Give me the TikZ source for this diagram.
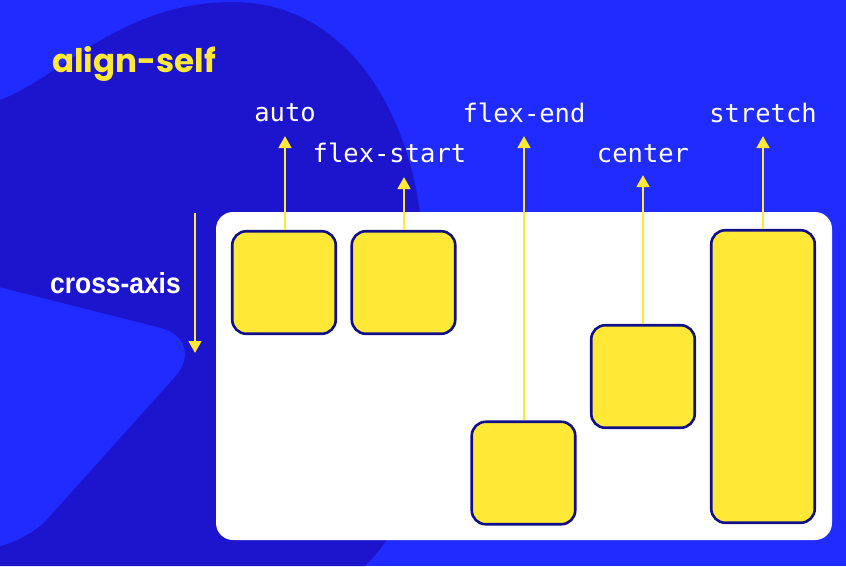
\documentclass[tikz,border=0pt]{standalone}
\usepackage{fontspec}
\usepackage{graphicx}
\setmainfont{Liberation Sans}
\newfontfamily\titlefont{Poppins Bold}
\newfontfamily\monofont{DejaVu Sans Mono}
\usetikzlibrary{arrows.meta}
\definecolor{bgblue}{HTML}{1F2BFF}
\definecolor{darkblob}{HTML}{1D15CE}
\definecolor{ylw}{HTML}{FFE936}
\definecolor{navy}{HTML}{111088}
\tikzset{
  ybox/.style={draw=navy, line width=2.6pt, fill=ylw, rounded corners=14pt, inner sep=0pt, minimum width=103.5pt, minimum height=102.5pt},
  lbl/.style={text=white, font=\monofont\fontsize{25.5}{26}\selectfont, anchor=base, inner sep=0pt},
  yarr/.style={draw=ylw, line width=2.7pt, -{Triangle[width=12.5pt,length=12pt]}},
}
\begin{document}
\begin{tikzpicture}[x=1pt,y=-1pt]
\useasboundingbox (0,0) rectangle (846,566);
\fill[bgblue] (0,0) rectangle (846,566);
% dark blob
\fill[darkblob] (0,100) .. controls (60,78) and (120,2) .. (233,2)
  .. controls (340,2) and (405,100) .. (420,213)
  .. controls (440,340) and (450,480) .. (365,566)
  -- (0,566) -- cycle;
% light rounded triangle
\fill[bgblue, rounded corners=50pt] (-100,262) -- (208,340) -- (14,556) -- (-100,540) -- cycle;
% title
\node[anchor=base west, inner sep=0pt, text=ylw, font=\titlefont\fontsize{32.5}{34}\selectfont] (title) at (52,72.5) {align-self};
% cross-axis
\node[anchor=base west, inner sep=0pt, text=white, font=\bfseries\fontsize{29}{30}\selectfont] (cross) at (50,293) {\scalebox{0.91}[1]{cross-axis}};
\coordinate (caTop) at (195,213);
\coordinate (caTip) at (195,353);
\draw[yarr] (caTop) -- (caTip);
% container
\node[fill=white, rounded corners=17pt, inner sep=0pt, minimum width=616pt, minimum height=328pt] (container) at (524,376) {};
% boxes
\node[ybox] (bauto) at (284,282.5) {};
\node[ybox] (bstart) at (403.5,282.5) {};
\node[ybox] (bend) at (523.5,473) {};
\node[ybox] (bcenter) at (643,376.5) {};
\node[ybox, minimum height=292.5pt] (bstretch) at (763,376.5) {};
% labels
\node[lbl] (lauto) at (285,121) {auto};
\node[lbl] (lstart) at (389.5,162) {flex-start};
\node[lbl] (lend) at (524,122) {flex-end};
\node[lbl] (lcenter) at (643,162) {center};
\node[lbl] (lstretch) at (763,122) {stretch};
% arrow tips
\coordinate (tauto) at (285,136);
\coordinate (tstart) at (404,177);
\coordinate (tend) at (524,136);
\coordinate (tcenter) at (643,175);
\coordinate (tstretch) at (763,136);
\draw[yarr] (bauto.north -| tauto) -- (tauto);
\draw[yarr] (bstart.north -| tstart) -- (tstart);
\draw[yarr] (bend.north -| tend) -- (tend);
\draw[yarr] (bcenter.north -| tcenter) -- (tcenter);
\draw[yarr] (bstretch.north -| tstretch) -- (tstretch);
\end{tikzpicture}
\end{document}
